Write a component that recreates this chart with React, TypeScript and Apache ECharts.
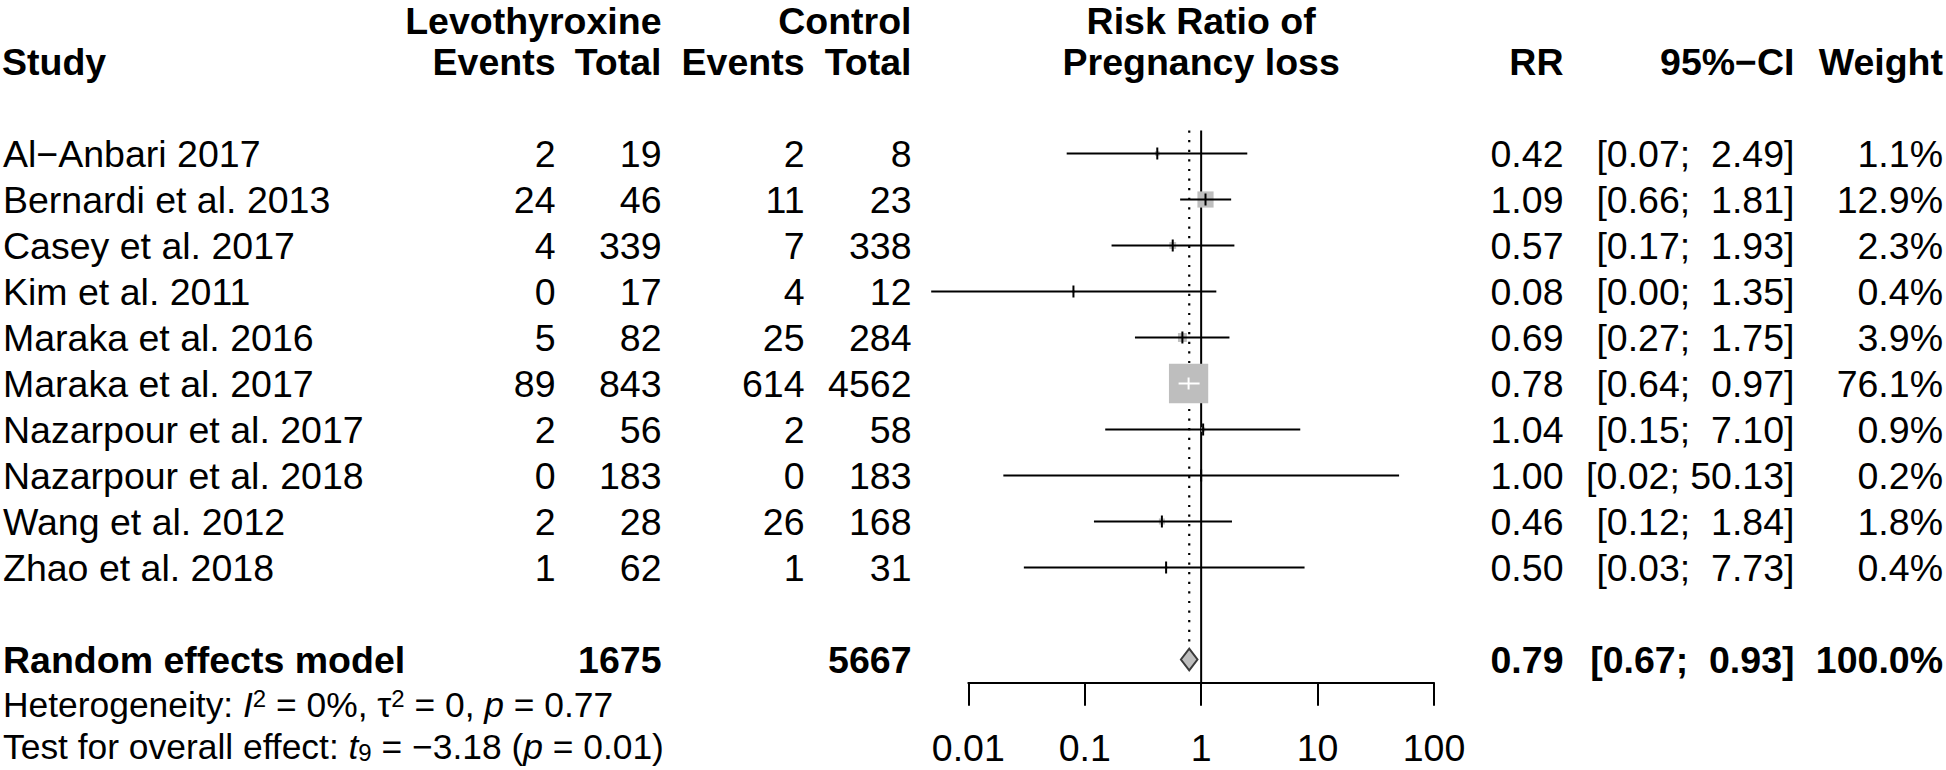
import React, { useEffect, useRef } from "react";
import * as echarts from "echarts";

// ---------- data ----------
const studies = [
  "Al−Anbari 2017",
  "Bernardi et al. 2013",
  "Casey et al. 2017",
  "Kim et al. 2011",
  "Maraka et al. 2016",
  "Maraka et al. 2017",
  "Nazarpour et al. 2017",
  "Nazarpour et al. 2018",
  "Wang et al. 2012",
  "Zhao et al. 2018",
];
const levEvents = [2, 24, 4, 0, 5, 89, 2, 0, 2, 1];
const levTotal = [19, 46, 339, 17, 82, 843, 56, 183, 28, 62];
const ctrlEvents = [2, 11, 7, 4, 25, 614, 2, 0, 26, 1];
const ctrlTotal = [8, 23, 338, 12, 284, 4562, 58, 183, 168, 31];
const riskRatio = [0.42, 1.09, 0.57, 0.08, 0.69, 0.78, 1.04, 1.0, 0.46, 0.5];
const ciLower = [0.07, 0.66, 0.17, 0.0048, 0.27, 0.64, 0.15, 0.02, 0.12, 0.03];
const ciUpper = [2.49, 1.81, 1.93, 1.35, 1.75, 0.97, 7.1, 50.13, 1.84, 7.73];
const weights = [1.1, 12.9, 2.3, 0.4, 3.9, 76.1, 0.9, 0.2, 1.8, 0.4];

const pooledRR = [0.79];
const pooledCI = [0.67, 0.93];
const pooledTotals = [1675, 5667];
const pooledWeight = [100.0];

const tickValues = [0.01, 0.1, 1, 10, 100];
const tickLabels = ["0.01", "0.1", "1", "10", "100"];

const hetI2 = "0%";
const hetTau2 = "0";
const hetP = "0.77";
const testDf = "9";
const testT = "−3.18";
const testP = "0.01";

// ---------- layout ----------
const W = 1946;
const H = 770;
const FONT = '"Liberation Sans", Arial, Helvetica, sans-serif';
const FS = 37.5;
const FS_FOOT = 35.4;
const LH = 30;
const ROW0_Y = 15.5;
const ROW_H = 46;
const TOP_NUDGE = 5.5;
const AXIS_Y = 682.7;
const PLOT_L = 968.3;
const PLOT_R = 1434;
const FIRST_ROW = 3;
const SUM_ROW = 14;
const SQ = 4.5;

const COL = {
  study: 3,
  levEv: 555.5,
  levTot: 661.5,
  ctrlEv: 804.5,
  ctrlTot: 911.5,
  center: (PLOT_L + PLOT_R) / 2,
  rr: 1563.5,
  ci: 1794.5,
  w: 1943,
};

const rowY = (r: number) => ROW0_Y + ROW_H * r;

const fmtCI = (lo: number, hi: number) => {
  const l = lo.toFixed(2).padStart(4, " ");
  const h = hi.toFixed(2).padStart(5, " ");
  return "[" + l + "; " + h + "]";
};

function txt(x: number, y: number, text: string, align: string, bold = false) {
  return {
    type: "text",
    x,
    y,
    silent: true,
    style: {
      text,
      fill: "#000",
      fontSize: FS,
      fontFamily: FONT,
      fontWeight: bold ? "bold" : "normal",
      lineHeight: LH,
      align,
      verticalAlign: "middle",
      textAlign: align,
      textVerticalAlign: "middle",
    },
  };
}

export default function App() {
  const ref = useRef<HTMLDivElement>(null);

  useEffect(() => {
    if (!ref.current) return;
    const chart = echarts.init(ref.current, null, { renderer: "svg" });

    const studyData = riskRatio.map((v, i) => [
      v,
      FIRST_ROW + i,
      ciLower[i],
      ciUpper[i],
      weights[i],
    ]);

    const tableData = studies.map((_, i) => [1, FIRST_ROW + i, i]);

    const yMin = -ROW0_Y / ROW_H;
    const yMax = (AXIS_Y - ROW0_Y) / ROW_H;

    const graphic: any[] = [];
    // headers
    const h0 = rowY(0) + TOP_NUDGE;
    graphic.push(txt(COL.levTot, h0, "Levothyroxine", "right", true));
    graphic.push(txt(COL.ctrlTot, h0, "Control", "right", true));
    graphic.push(txt(COL.center, h0, "Risk Ratio of", "center", true));
    graphic.push(txt(COL.study - 1, rowY(1), "Study", "left", true));
    graphic.push(txt(COL.levEv, rowY(1), "Events", "right", true));
    graphic.push(txt(COL.levTot, rowY(1), "Total", "right", true));
    graphic.push(txt(COL.ctrlEv, rowY(1), "Events", "right", true));
    graphic.push(txt(COL.ctrlTot, rowY(1), "Total", "right", true));
    graphic.push(txt(COL.center, rowY(1), "Pregnancy loss", "center", true));
    graphic.push(txt(COL.rr, rowY(1), "RR", "right", true));
    graphic.push(txt(COL.ci, rowY(1), "95%−CI", "right", true));
    graphic.push(txt(COL.w, rowY(1), "Weight", "right", true));
    // summary row
    graphic.push(txt(COL.study, rowY(SUM_ROW), "Random effects model", "left", true));
    graphic.push(txt(COL.levTot, rowY(SUM_ROW), String(pooledTotals[0]), "right", true));
    graphic.push(txt(COL.ctrlTot, rowY(SUM_ROW), String(pooledTotals[1]), "right", true));
    graphic.push(txt(COL.rr, rowY(SUM_ROW), pooledRR[0].toFixed(2), "right", true));
    graphic.push(txt(COL.ci, rowY(SUM_ROW), fmtCI(pooledCI[0], pooledCI[1]), "right", true));
    graphic.push(txt(COL.w, rowY(SUM_ROW), pooledWeight[0].toFixed(1) + "%", "right", true));

    const rich = {
      n: { fontSize: FS_FOOT, fontFamily: FONT, fill: "#000", color: "#000", lineHeight: 36 },
      i: { fontSize: FS_FOOT, fontFamily: FONT, fontStyle: "italic", fill: "#000", color: "#000", lineHeight: 36 },
      sup: { fontSize: 24, fontFamily: FONT, fill: "#000", color: "#000", lineHeight: 6, verticalAlign: "top" },
      sub: { fontSize: 24, fontFamily: FONT, fill: "#000", color: "#000", lineHeight: 22, verticalAlign: "bottom" },
    };
    const footStyle = {
      rich,
      fill: "#000",
      fontSize: FS_FOOT,
      fontFamily: FONT,
      align: "left",
      verticalAlign: "middle",
      textAlign: "left",
      textVerticalAlign: "middle",
    };
    graphic.push({
      type: "text",
      x: COL.study,
      y: rowY(SUM_ROW + 1) - 1,
      silent: true,
      style: {
        ...footStyle,
        text:
          "{n|Heterogeneity: }{i|I}{sup|2}{n| = " + hetI2 + ", τ}{sup|2}{n| = " + hetTau2 + ", }{i|p}{n| = " + hetP + "}",
      },
    });
    graphic.push({
      type: "text",
      x: COL.study,
      y: rowY(SUM_ROW + 2) - 5,
      silent: true,
      style: {
        ...footStyle,
        text:
          "{n|Test for overall effect: }{i|t}{sub|" + testDf + "}{n| = " + testT + " (}{i|p}{n| = " + testP + ")}",
      },
    });

    const option: any = {
      animation: false,
      backgroundColor: "#ffffff",
      grid: {
        left: PLOT_L,
        right: W - PLOT_R,
        top: 0,
        height: AXIS_Y,
        containLabel: false,
      },
      xAxis: {
        type: "log",
        logBase: 10,
        position: "bottom",
        min: tickValues[0],
        max: tickValues[tickValues.length - 1],
        axisLine: { show: true, onZero: false, lineStyle: { color: "#000", width: 2 } },
        axisTick: { show: true, inside: false, length: 23, lineStyle: { color: "#000", width: 2 } },
        minorTick: { show: false },
        splitLine: { show: false },
        axisLabel: {
          show: true,
          color: "#000",
          fontSize: FS,
          fontFamily: FONT,
          lineHeight: LH,
          margin: 50.5,
          showMinLabel: true,
          showMaxLabel: true,
          formatter: (v: number) => {
            const k = tickValues.findIndex(
              (t) => Math.abs(Math.log10(t) - Math.log10(v)) < 1e-6
            );
            return k >= 0 ? tickLabels[k] : "";
          },
        },
      },
      yAxis: {
        type: "value",
        inverse: true,
        min: yMin,
        max: yMax,
        show: false,
        axisLine: { onZero: false },
        splitLine: { show: false },
      },
      series: [
        {
          type: "custom",
          name: "reference",
          clip: false,
          silent: true,
          data: [
            [1, 2.5, yMax],
            [pooledRR[0], 2.5, SUM_ROW - 10.8 / ROW_H],
          ],
          renderItem: (params: any, api: any) => {
            const x = api.value(0);
            const a = api.coord([x, api.value(1)]);
            const b = api.coord([x, api.value(2)]);
            const dotted = params.dataIndex === 1;
            return {
              type: "line",
              shape: { x1: a[0], y1: a[1], x2: b[0], y2: b[1] },
              style: {
                stroke: "#000",
                lineWidth: dotted ? 2.2 : 2,
                lineDash: dotted ? [2.2, 7.4] : null,
              },
            };
          },
        },
        {
          type: "custom",
          name: "studies",
          clip: false,
          silent: true,
          data: studyData,
          renderItem: (params: any, api: any) => {
            const rr = api.value(0);
            const row = api.value(1);
            const lo = api.value(2);
            const hi = api.value(3);
            const w = api.value(4);
            const p = api.coord([rr, row]);
            const l = api.coord([lo, row]);
            const h = api.coord([hi, row]);
            const side = SQ * Math.sqrt(w);
            const inside = l[0] >= p[0] - side / 2 && h[0] <= p[0] + side / 2;
            const col = inside ? "#ffffff" : "#000000";
            return {
              type: "group",
              children: [
                {
                  type: "rect",
                  shape: { x: p[0] - side / 2, y: p[1] - side / 2, width: side, height: side },
                  style: { fill: "#bebebe" },
                },
                {
                  type: "line",
                  shape: { x1: l[0], y1: p[1], x2: h[0], y2: p[1] },
                  style: { stroke: col, lineWidth: 2 },
                },
                {
                  type: "line",
                  shape: { x1: p[0], y1: p[1] - 6, x2: p[0], y2: p[1] + 6 },
                  style: { stroke: col, lineWidth: 2 },
                },
              ],
            };
          },
        },
        {
          type: "custom",
          name: "pooled",
          clip: false,
          silent: true,
          data: [[pooledRR[0], SUM_ROW, pooledCI[0], pooledCI[1]]],
          renderItem: (params: any, api: any) => {
            const row = api.value(1);
            const c = api.coord([api.value(0), row]);
            const l = api.coord([api.value(2), row]);
            const h = api.coord([api.value(3), row]);
            const hh = 10.8;
            return {
              type: "polygon",
              shape: {
                points: [
                  [l[0], c[1]],
                  [c[0], c[1] - hh],
                  [h[0], c[1]],
                  [c[0], c[1] + hh],
                ],
              },
              style: { fill: "#bebebe", stroke: "#3a3a3a", lineWidth: 2 },
            };
          },
        },
        {
          type: "custom",
          name: "table",
          clip: false,
          silent: true,
          data: tableData,
          renderItem: (params: any, api: any) => {
            const i = api.value(2);
            const y = api.coord([1, api.value(1)])[1];
            const t = (x: number, s: string, align: string) => ({
              type: "text",
              x,
              y,
              style: {
                text: s,
                fill: "#000",
                fontSize: FS,
                fontFamily: FONT,
                lineHeight: LH,
                align,
                verticalAlign: "middle",
                textAlign: align,
                textVerticalAlign: "middle",
              },
            });
            return {
              type: "group",
              children: [
                t(COL.study, studies[i], "left"),
                t(COL.levEv, String(levEvents[i]), "right"),
                t(COL.levTot, String(levTotal[i]), "right"),
                t(COL.ctrlEv, String(ctrlEvents[i]), "right"),
                t(COL.ctrlTot, String(ctrlTotal[i]), "right"),
                t(COL.rr, riskRatio[i].toFixed(2), "right"),
                t(COL.ci, fmtCI(ciLower[i], ciUpper[i]), "right"),
                t(COL.w, weights[i].toFixed(1) + "%", "right"),
              ],
            };
          },
        },
      ],
      graphic,
    };

    chart.setOption(option);
    return () => {
      chart.dispose();
    };
  }, []);

  return (
    <div
      ref={ref}
      style={{
        position: "fixed",
        left: 0,
        top: 0,
        width: W,
        height: H,
        background: "#fff",
      }}
    />
  );
}
